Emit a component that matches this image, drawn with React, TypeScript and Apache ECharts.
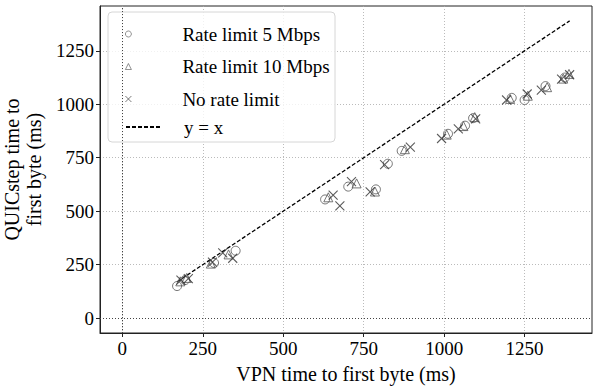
import React, { useEffect, useRef } from "react";
import * as echarts from "echarts";

// Rate limit 5 Mbps (circles): VPN TTFB (x) vs QUICstep TTFB (y), ms
const vpn5 = [170, 195, 285, 352, 630, 702, 788, 825, 868, 1012, 1065, 1090, 1210, 1250, 1315, 1375];
const quic5 = [150, 178, 258, 315, 555, 615, 602, 722, 782, 862, 900, 935, 1030, 1020, 1085, 1125];

// Rate limit 10 Mbps (triangles)
const vpn10 = [180, 200, 275, 330, 640, 728, 785, 878, 1008, 1060, 1095, 1205, 1260, 1320, 1370, 1388];
const quic10 = [172, 188, 255, 298, 565, 630, 592, 790, 858, 898, 940, 1025, 1040, 1080, 1120, 1142];

// No rate limit (crosses)
const vpnNo = [182, 205, 280, 312, 343, 655, 676, 712, 770, 815, 895, 992, 1044, 1098, 1194, 1258, 1302, 1365, 1390];
const quicNo = [178, 185, 262, 305, 280, 575, 525, 638, 590, 718, 800, 840, 885, 932, 1020, 1048, 1066, 1118, 1138];

const tickValues = [0, 250, 500, 750, 1000, 1250];
const seriesNames = ["Rate limit 5 Mbps", "Rate limit 10 Mbps", "No rate limit"];
const lineName = "y = x";
const xTitle = "VPN time to first byte (ms)";
const yTitle = "QUICstep time to\nfirst byte (ms)";

const FONT = "Liberation Serif";
const TICK_FONT = "Times New Roman, Liberation Serif, serif";

const zip = (xs: number[], ys: number[]) => xs.map((x, i) => [x, ys[i]]);

export default function App() {
  const ref = useRef<HTMLDivElement>(null);

  useEffect(() => {
    if (!ref.current) return;
    const chart = echarts.init(ref.current, undefined, { renderer: "svg" });

    const allVpn = [...vpn5, ...vpn10, ...vpnNo];
    const vMin = Math.min(...allVpn);
    const vMax = Math.max(...allVpn);
    const lo = 0;
    const hi = vMax;
    const pad = 0.05 * (hi - lo);
    const axMin = lo - pad;
    const axMax = hi + pad;

    const axisCommon = (name: string, isY: boolean) => ({
      type: "value" as const,
      min: axMin,
      max: axMax,
      name,
      nameLocation: "middle" as const,
      nameGap: isY ? 46 : 26,
      nameRotate: isY ? 90 : 0,
      nameTextStyle: { fontFamily: FONT, fontSize: 20, color: "#000", lineHeight: 22 },
      axisLine: { show: true, onZero: false, lineStyle: { color: "#222", width: 1 } },
      axisTick: {
        show: true,
        inside: false,
        length: 4,
        customValues: tickValues,
        lineStyle: { color: "#222", width: 1 },
      },
      axisLabel: {
        customValues: tickValues,
        formatter: (v: number) => String(v),
        fontFamily: TICK_FONT,
        fontStyle: "normal",
        fontWeight: "normal",
        fontSize: 19,
        lineHeight: 20,
        color: "#000",
        margin: isY ? 6 : 5,
        showMinLabel: true,
        showMaxLabel: true,
      },
      splitLine: {
        show: true,
        lineStyle: { color: "#aaa", type: [1, 2], width: 0.8 },
      },
    });

    const option: any = {
      animation: false,
      backgroundColor: "#fff",
      textStyle: { fontFamily: FONT },
      grid: {
        left: 100,
        right: 6,
        top: 6,
        bottom: 54,
        containLabel: false,
        outerBoundsMode: "none",
        show: true,
        borderColor: "#222",
        borderWidth: 1,
        backgroundColor: "transparent",
      },
      xAxis: axisCommon(xTitle, false),
      yAxis: axisCommon(yTitle, true),
      graphic: [
        {
          type: "rect",
          z: 3,
          shape: { x: 108, y: 12, width: 227, height: 130, r: 4 },
          style: { fill: "rgba(255,255,255,0.8)", stroke: "#d6d6d6", lineWidth: 1 },
        },
      ],
      legend: [
        {
          data: seriesNames,
          orient: "vertical",
          left: 120,
          top: 19,
          itemWidth: 6,
          itemHeight: 6,
          itemGap: 12.5,
          z: 5,
          itemStyle: { borderWidth: 0.8 },
          textStyle: {
            fontFamily: FONT,
            fontSize: 19,
            color: "#000",
            lineHeight: 20,
            padding: [0, 0, 0, 46],
          },
        },
        {
          data: [lineName],
          orient: "vertical",
          left: 120,
          top: 112,
          itemWidth: 34,
          itemHeight: 8,
          z: 5,
          itemStyle: { opacity: 0 },
          textStyle: {
            fontFamily: FONT,
            fontSize: 19,
            color: "#000",
            lineHeight: 20,
            padding: [0, 0, 0, 19],
          },
        },
      ],
      series: [
        {
          name: lineName,
          type: "line",
          data: [
            [vMin, vMin],
            [vMax, vMax],
          ],
          symbol: "none",
          showSymbol: false,
          lineStyle: { color: "#000", width: 1.3, type: [4, 2] },
          itemStyle: { color: "#000" },
          z: 2,
          markLine: {
            silent: true,
            symbol: ["none", "none"],
            label: { show: false },
            lineStyle: { color: "#444", type: [1, 2], width: 1 },
            data: [{ xAxis: 0 }, { yAxis: 0 }],
          },
        },
        {
          name: seriesNames[0],
          type: "scatter",
          data: zip(vpn5, quic5),
          symbol: "circle",
          symbolSize: 9,
          itemStyle: { color: "rgba(0,0,0,0)", borderColor: "#555", borderWidth: 1 },
          z: 3,
        },
        {
          name: seriesNames[1],
          type: "scatter",
          data: zip(vpn10, quic10),
          symbol: "triangle",
          symbolSize: 9,
          itemStyle: { color: "rgba(0,0,0,0)", borderColor: "#555", borderWidth: 1 },
          z: 3,
        },
        {
          name: seriesNames[2],
          type: "scatter",
          data: zip(vpnNo, quicNo),
          symbol: "path://M0,0L10,10M10,0L0,10",
          symbolSize: 9,
          itemStyle: { color: "rgba(0,0,0,0)", borderColor: "#333", borderWidth: 1.1 },
          z: 3,
        },
      ],
    };

    chart.setOption(option);
    return () => chart.dispose();
  }, []);

  return (
    <div
      ref={ref}
      style={{ position: "fixed", left: 0, top: 0, width: 598, height: 387, background: "#fff" }}
    />
  );
}
